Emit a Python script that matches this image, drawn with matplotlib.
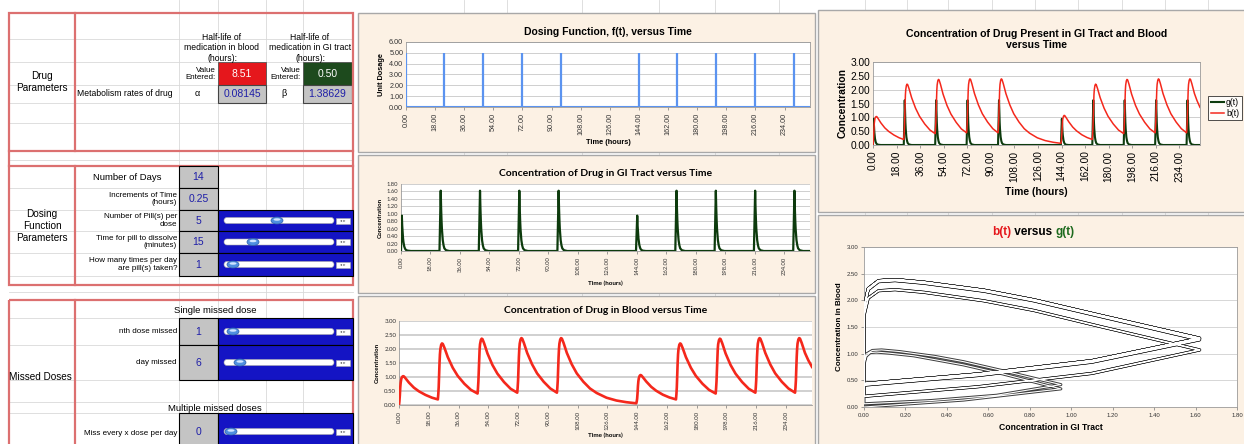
import matplotlib
matplotlib.use('Agg')
from matplotlib import pyplot as plt
from matplotlib.patches import Rectangle, Ellipse, FancyBboxPatch
from matplotlib.ticker import FormatStrFormatter

W, H = 1244, 444

# dosing function f(t): pill doses (unit dosage)
dose_hours = [0.0, 23.75, 47.75, 71.75, 95.75, 143.75, 167.75, 191.75, 215.75, 239.75]
dose_units = [5.0, 5.0, 5.0, 5.0, 5.0, 5.0, 5.0, 5.0, 5.0, 5.0]

# time (hours), GI tract g(t) and blood b(t), one row per dosing cycle
hours = [
    0, 0.25, 0.5, 0.75, 1, 1.25, 1.5, 2, 2.5, 3, 4, 6, 9, 12, 16, 20,
    23.5, 23.75, 24, 24.25, 24.5, 24.75, 25, 25.5, 26, 26.5, 27.5, 29.5, 32.5, 35.5, 39.5, 43.5,
    47.5, 47.75, 48, 48.25, 48.5, 48.75, 49, 49.5, 50, 50.5, 51.5, 53.5, 56.5, 59.5, 63.5, 67.5,
    71.5, 71.75, 72, 72.25, 72.5, 72.75, 73, 73.5, 74, 74.5, 75.5, 77.5, 80.5, 83.5, 87.5, 91.5,
    95.5, 95.75, 96, 96.25, 96.5, 96.75, 97, 97.5, 98, 98.5, 99.5, 101.5, 104.5, 107.5, 111.5, 115.5,
    119.5, 125.5, 131.5, 137.5,
    143.5, 143.75, 144, 144.25, 144.5, 144.75, 145, 145.5, 146, 146.5, 147.5, 149.5, 152.5, 155.5, 159.5, 163.5,
    167.5, 167.75, 168, 168.25, 168.5, 168.75, 169, 169.5, 170, 170.5, 171.5, 173.5, 176.5, 179.5, 183.5, 187.5,
    191.5, 191.75, 192, 192.25, 192.5, 192.75, 193, 193.5, 194, 194.5, 195.5, 197.5, 200.5, 203.5, 207.5, 211.5,
    215.5, 215.75, 216, 216.25, 216.5, 216.75, 217, 217.5, 218, 218.5, 219.5, 221.5, 224.5, 227.5, 231.5, 235.5,
    239.5, 239.75, 240, 240.25, 240.5, 240.75, 241, 241.5, 242, 242.5, 243.5, 245.5, 247.5, 249.75,
]
g_conc = [
    0, 0.48, 0.95, 0.67, 0.48, 0.34, 0.24, 0.12, 0.06, 0.03, 0.01, 0, 0, 0, 0, 0,
    0, 0.55, 1.10, 1.62, 1.15, 0.82, 0.58, 0.29, 0.15, 0.07, 0.02, 0, 0, 0, 0, 0,
    0, 0.55, 1.10, 1.62, 1.15, 0.82, 0.58, 0.29, 0.15, 0.07, 0.02, 0, 0, 0, 0, 0,
    0, 0.55, 1.10, 1.62, 1.15, 0.82, 0.58, 0.29, 0.15, 0.07, 0.02, 0, 0, 0, 0, 0,
    0, 0.55, 1.10, 1.62, 1.15, 0.82, 0.58, 0.29, 0.15, 0.07, 0.02, 0, 0, 0, 0, 0,
    0, 0, 0, 0,
    0, 0.32, 0.64, 0.95, 0.67, 0.48, 0.34, 0.17, 0.085, 0.04, 0.01, 0, 0, 0, 0, 0,
    0, 0.55, 1.10, 1.62, 1.15, 0.82, 0.58, 0.29, 0.15, 0.07, 0.02, 0, 0, 0, 0, 0,
    0, 0.55, 1.10, 1.62, 1.15, 0.82, 0.58, 0.29, 0.15, 0.07, 0.02, 0, 0, 0, 0, 0,
    0, 0.55, 1.10, 1.62, 1.15, 0.82, 0.58, 0.29, 0.15, 0.07, 0.02, 0, 0, 0, 0, 0,
    0, 0.55, 1.10, 1.62, 1.15, 0.82, 0.58, 0.29, 0.15, 0.07, 0.02, 0, 0, 0,
]
b_conc = [
    0, 0.13, 0.34, 0.62, 0.79, 0.89, 0.96, 1.01, 1.03, 1.02, 0.95, 0.80, 0.62, 0.49, 0.36, 0.26,
    0.20, 0.38, 0.63, 1.07, 1.50, 1.81, 1.99, 2.15, 2.20, 2.18, 2.04, 1.71, 1.33, 1.04, 0.76, 0.54,
    0.41, 0.59, 0.84, 1.26, 1.69, 1.99, 2.17, 2.32, 2.37, 2.35, 2.20, 1.84, 1.43, 1.12, 0.82, 0.58,
    0.44, 0.62, 0.87, 1.29, 1.71, 2.01, 2.19, 2.34, 2.39, 2.37, 2.22, 1.86, 1.45, 1.13, 0.83, 0.59,
    0.44, 0.62, 0.87, 1.29, 1.71, 2.01, 2.19, 2.34, 2.39, 2.37, 2.22, 1.86, 1.45, 1.13, 0.83, 0.59,
    0.43, 0.26, 0.16, 0.10,
    0.06, 0.12, 0.22, 0.42, 0.68, 0.85, 0.95, 1.04, 1.07, 1.06, 0.99, 0.84, 0.65, 0.51, 0.37, 0.27,
    0.20, 0.38, 0.63, 1.07, 1.50, 1.81, 1.99, 2.15, 2.20, 2.18, 2.04, 1.71, 1.33, 1.04, 0.76, 0.54,
    0.41, 0.59, 0.84, 1.26, 1.69, 1.99, 2.17, 2.32, 2.37, 2.35, 2.20, 1.84, 1.43, 1.12, 0.82, 0.58,
    0.44, 0.62, 0.87, 1.29, 1.71, 2.01, 2.19, 2.34, 2.39, 2.37, 2.22, 1.86, 1.45, 1.13, 0.83, 0.59,
    0.44, 0.62, 0.87, 1.29, 1.71, 2.01, 2.19, 2.34, 2.39, 2.37, 2.22, 1.86, 1.60, 1.36,
]

time_ticks = [0, 18, 36, 54, 72, 90, 108, 126, 144, 162, 180, 198, 216, 234]
t_end = 249.75

ARIAL = ['Liberation Sans', 'DejaVu Sans']
CALIBRI = ['Lato', 'DejaVu Sans']
BEIGE = '#fcf1e4'
RED_BORDER = '#dc7070'
GRID = '#d9d9d9'
VAL_BLUE = '#1e1ea8'


def fr(x0, y0, x1, y1):
    return [x0 / W, 1 - y1 / H, (x1 - x0) / W, (y1 - y0) / H]


fig = plt.figure(figsize=(W / 100, H / 100), dpi=100)
bg = fig.add_axes([0, 0, 1, 1])
bg.set_xlim(0, W)
bg.set_ylim(H, 0)
bg.axis('off')

# ---- spreadsheet background grid
for x in [179, 218, 266, 303, 464, 507, 582, 659, 715, 779, 865, 907, 948, 992, 1035, 1078, 1122, 1165, 1208]:
    bg.plot([x, x], [0, H], color=GRID, lw=0.6, zorder=0)
for y in [39, 62, 85, 103, 123, 160, 188, 210, 231, 253, 276, 292, 318, 345, 380, 402, 413]:
    bg.plot([9, 353], [y, y], color=GRID, lw=0.6, zorder=0)

# ---- red bordered blocks
for (y0, y1) in [(13, 151), (166, 285), (300, 450)]:
    bg.add_patch(Rectangle((9, y0), 344, y1 - y0, fill=False, ec=RED_BORDER, lw=1.6, zorder=2))
    bg.plot([75, 75], [y0, y1], color=RED_BORDER, lw=1.6, zorder=2)
bg.plot([9, 9], [151, 166], color=RED_BORDER, lw=1.6)
bg.plot([353, 353], [151, 166], color=RED_BORDER, lw=1.6)

tk = dict(family=ARIAL, color='black')
bg.text(42, 82, 'Drug\nParameters', ha='center', va='center', fontsize=7.2, linespacing=1.3, **tk)
bg.text(42, 226, 'Dosing\nFunction\nParameters', ha='center', va='center', fontsize=7.2, linespacing=1.3, **tk)
bg.text(40, 377, 'Missed Doses', ha='center', va='center', fontsize=7.2, **tk)

# block 1
bg.text(222, 48, 'Half-life of\nmedication in blood\n(hours):', ha='center', va='center', fontsize=6.2, linespacing=1.15, **tk)
bg.text(310, 48, 'Half-life of\nmedication in GI tract\n(hours):', ha='center', va='center', fontsize=6.2, linespacing=1.15, **tk)
bg.text(216, 74, 'Value\nEntered:', ha='right', va='center', fontsize=5.8, linespacing=1.05, **tk)
bg.text(301, 74, 'Value\nEntered:', ha='right', va='center', fontsize=5.8, linespacing=1.05, **tk)
bg.add_patch(Rectangle((218, 62), 48, 23, fc='#e5171c', ec='#555555', lw=0.6))
bg.text(242, 74, '8.51', ha='center', va='center', fontsize=7.5, family=ARIAL, color='white')
bg.add_patch(Rectangle((303, 62), 49, 23, fc='#1d4a1d', ec='#555555', lw=0.6))
bg.text(327.5, 74, '0.50', ha='center', va='center', fontsize=7.5, family=ARIAL, color='white')
bg.text(77, 94, 'Metabolism rates of drug', ha='left', va='center', fontsize=6.2, **tk)
bg.text(197, 94, 'α', ha='center', va='center', fontsize=6.5, **tk)
bg.text(284, 94, 'β', ha='center', va='center', fontsize=6.5, **tk)
bg.add_patch(Rectangle((218, 85), 48, 18, fc='#c4c4c4', ec='#444444', lw=0.8))
bg.add_patch(Rectangle((303, 85), 49, 18, fc='#c4c4c4', ec='#444444', lw=0.8))
bg.text(242, 94, '0.08145', ha='center', va='center', fontsize=7.5, family=ARIAL, color=VAL_BLUE)
bg.text(327.5, 94, '1.38629', ha='center', va='center', fontsize=7.5, family=ARIAL, color=VAL_BLUE)


def slider(y0, y1, knob_x):
    bg.add_patch(Rectangle((218, y0), 135, y1 - y0, fc='#1414c4', ec='black', lw=0.8, zorder=3))
    cy = (y0 + y1) / 2
    bg.add_patch(FancyBboxPatch((224, cy - 3), 110, 6, boxstyle='round,pad=0,rounding_size=3',
                                fc='white', ec='#aaaaaa', lw=0.4, zorder=4))
    bg.add_patch(Rectangle((336, cy - 3), 14, 6, fc='white', ec='#aaaaaa', lw=0.4, zorder=4))
    bg.text(343, cy, '◂ ▸', ha='center', va='center', fontsize=3, color='#555555', zorder=5)
    bg.add_patch(Ellipse((knob_x, cy), 12, 7, fc='#4f8fe0', ec='#2a5aa8', lw=0.5, zorder=5))
    bg.add_patch(Ellipse((knob_x, cy - 1), 7, 2.5, fc='#cfe3ff', ec='none', zorder=6))


def value_cell(y0, y1, txt):
    bg.add_patch(Rectangle((179, y0), 39, y1 - y0, fc='#c4c4c4', ec='black', lw=0.8, zorder=3))
    bg.text(198.5, (y0 + y1) / 2, txt, ha='center', va='center', fontsize=7.5, family=ARIAL,
            color=VAL_BLUE, zorder=4)


# block 2
bg.text(127, 177, 'Number of Days', ha='center', va='center', fontsize=6.8, **tk)
bg.text(177, 199, 'Increments of Time\n(hours)', ha='right', va='center', fontsize=5.8, linespacing=1.1, **tk)
bg.text(177, 220.5, 'Number of Pill(s) per\ndose', ha='right', va='center', fontsize=5.8, linespacing=1.1, **tk)
bg.text(177, 242, 'Time for pill to dissolve\n(minutes)', ha='right', va='center', fontsize=5.8, linespacing=1.1, **tk)
bg.text(177, 264.5, 'How many times per day\nare pill(s) taken?', ha='right', va='center', fontsize=5.8, linespacing=1.1, **tk)
value_cell(166, 188, '14')
value_cell(188, 210, '0.25')
value_cell(210, 231, '5')
value_cell(231, 253, '15')
value_cell(253, 276, '1')
slider(210, 231, 277)
slider(231, 253, 253)
slider(253, 276, 233)

# block 3
bg.text(215, 310, 'Single missed dose', ha='center', va='center', fontsize=6.8, **tk)
bg.text(177, 331, 'nth dose missed', ha='right', va='center', fontsize=5.8, **tk)
bg.text(177, 362, 'day missed', ha='right', va='center', fontsize=5.8, **tk)
bg.text(215, 408, 'Multiple missed doses', ha='center', va='center', fontsize=6.8, **tk)
bg.text(177, 433, 'Miss every x dose per day', ha='right', va='center', fontsize=5.8, **tk)
value_cell(318, 345, '1')
value_cell(345, 380, '6')
value_cell(413, 450, '0')
slider(318, 345, 233)
slider(345, 380, 240)
slider(413, 450, 231)

# ---- chart panels
for (x0, y0, x1, y1) in [(358, 13, 815, 152), (358, 155, 815, 293), (358, 296, 815, 450),
                         (818, 10, 1250, 212), (818, 215, 1250, 450)]:
    bg.add_patch(Rectangle((x0, y0), x1 - x0, y1 - y0, fc=BEIGE, ec='#a8a8a8', lw=1.0, zorder=6))


def time_axis(ax, size, family, color='#333333', grid_lw=0.6):
    ax.set_xlim(0, t_end)
    ax.set_xticks(time_ticks)
    ax.set_xticklabels(['%.2f' % t for t in time_ticks], rotation=90, fontsize=size,
                       family=family, color=color)
    ax.tick_params(axis='x', length=2, width=0.5, pad=2, colors='#777777', labelcolor=color)
    ax.tick_params(axis='y', length=0, pad=2, labelcolor=color)
    for lab in ax.get_yticklabels():
        lab.set_fontsize(size)
        lab.set_family(family)
    ax.yaxis.set_major_formatter(FormatStrFormatter('%.2f'))
    ax.grid(axis='y', color='#c8c8c8', lw=grid_lw)
    ax.set_axisbelow(True)
    for s in ax.spines.values():
        s.set_color('#9a9a9a')
        s.set_linewidth(0.6)


# chart 1: dosing function
ax1 = fig.add_axes(fr(406, 42, 810, 107))
ax1.axhline(0, color='#5b93f0', lw=1.5, zorder=3)
ax1.vlines(dose_hours, 0, dose_units, color='#5b93f0', lw=1.6, zorder=3)
ax1.set_ylim(0, 6)
ax1.set_yticks([0, 1, 2, 3, 4, 5, 6])
time_axis(ax1, 5.2, ARIAL)
ax1.set_title('Dosing Function, f(t), versus Time', fontsize=7.5, fontweight='bold', family=ARIAL, pad=5)
ax1.set_ylabel('Unit Dosage', fontsize=5.3, fontweight='bold', family=ARIAL, labelpad=3)
ax1.set_xlabel('Time (hours)', fontsize=5.3, fontweight='bold', family=ARIAL, labelpad=3)

# chart 2: GI tract
ax2 = fig.add_axes(fr(401, 184, 810, 251))
ax2.plot(hours, g_conc, color='#0d3b0d', lw=1.6, zorder=3)
ax2.set_ylim(0, 1.8)
ax2.set_yticks([0, 0.2, 0.4, 0.6, 0.8, 1.0, 1.2, 1.4, 1.6, 1.8])
time_axis(ax2, 4.2, CALIBRI)
ax2.set_title('Concentration of Drug in GI Tract versus Time', fontsize=7.5, fontweight='bold',
              family=CALIBRI, pad=6)
ax2.set_ylabel('Concentration', fontsize=4.5, fontweight='bold', family=CALIBRI, labelpad=3)
ax2.set_xlabel('Time (hours)', fontsize=4.5, fontweight='bold', family=CALIBRI, labelpad=4)
ax2.spines['top'].set_visible(False)
ax2.spines['right'].set_visible(False)

# chart 3: blood
ax3 = fig.add_axes(fr(399, 321, 812, 405))
ax3.plot(hours, b_conc, color='#f4281c', lw=1.9, zorder=3)
ax3.set_ylim(0, 3)
ax3.set_yticks([0, 0.5, 1.0, 1.5, 2.0, 2.5, 3.0])
time_axis(ax3, 4.4, CALIBRI, grid_lw=1.2)
ax3.set_title('Concentration of Drug in Blood versus Time', fontsize=7.5, fontweight='bold',
              family=CALIBRI, pad=6)
ax3.set_ylabel('Concentration', fontsize=4.5, fontweight='bold', family=CALIBRI, labelpad=3)
ax3.set_xlabel('Time (hours)', fontsize=4.5, fontweight='bold', family=CALIBRI, labelpad=2)
ax3.spines['top'].set_visible(False)
ax3.spines['right'].set_visible(False)

# chart 4: both
ax4 = fig.add_axes(fr(873, 62, 1200, 145))
ax4.plot(hours, g_conc, color='#0d3b0d', lw=1.5, label='g(t)', zorder=3)
ax4.plot(hours, b_conc, color='#f4281c', lw=1.1, label='b(t)', zorder=4)
ax4.set_ylim(0, 3)
ax4.set_yticks([0, 0.5, 1.0, 1.5, 2.0, 2.5, 3.0])
time_axis(ax4, 7.3, ARIAL, color='black')
ax4.set_title('Concentration of Drug Present in GI Tract and Blood\nversus Time', fontsize=7.6,
              fontweight='bold', family=ARIAL, pad=10, linespacing=1.15)
ax4.set_ylabel('Concentration', fontsize=7.4, fontweight='bold', family=ARIAL, labelpad=2)
ax4.set_xlabel('Time (hours)', fontsize=7.4, fontweight='bold', family=ARIAL, labelpad=4)
leg = ax4.legend(loc='center left', bbox_to_anchor=(1208 / W, 1 - 108 / H), bbox_transform=fig.transFigure,
                 fontsize=6.2, frameon=True, fancybox=False, handlelength=1.6, handletextpad=0.2,
                 borderpad=0.3, labelspacing=0.2, borderaxespad=0)
leg.get_frame().set_edgecolor('black')
leg.get_frame().set_linewidth(0.6)
for txt in leg.get_texts():
    txt.set_family(ARIAL)

# chart 5: phase plot b(t) vs g(t), double line
ax5 = fig.add_axes(fr(864, 247, 1237, 407))
ax5.plot(g_conc, b_conc, color='#3c3c3c', lw=2.2, zorder=3, solid_joinstyle='round')
ax5.plot(g_conc, b_conc, color='white', lw=0.8, zorder=4, solid_joinstyle='round')
ax5.set_xlim(0, 1.8)
ax5.set_ylim(0, 3)
ax5.set_xticks([0, 0.2, 0.4, 0.6, 0.8, 1.0, 1.2, 1.4, 1.6, 1.8])
ax5.set_yticks([0, 0.5, 1.0, 1.5, 2.0, 2.5, 3.0])
ax5.xaxis.set_major_formatter(FormatStrFormatter('%.2f'))
ax5.yaxis.set_major_formatter(FormatStrFormatter('%.2f'))
ax5.tick_params(length=2, width=0.5, labelsize=4.3, colors='#777777', labelcolor='#333333', pad=2)
for lab in ax5.get_xticklabels() + ax5.get_yticklabels():
    lab.set_family(ARIAL)
ax5.grid(axis='y', color='#d0d0d0', lw=0.6)
ax5.set_axisbelow(True)
for s in ax5.spines.values():
    s.set_color('#9a9a9a')
    s.set_linewidth(0.6)
ax5.set_ylabel('Concentration in Blood', fontsize=5.8, fontweight='bold', family=ARIAL, labelpad=3)
ax5.set_xlabel('Concentration in GI Tract', fontsize=6.2, fontweight='bold', family=ARIAL, labelpad=4)

# coloured title pieces
fig.canvas.draw()
rend = fig.canvas.get_renderer()
parts = [('b(t)', '#e5171c'), (' versus ', 'black'), ('g(t)', '#1d6a1d')]
objs = []
for s, c in parts:
    objs.append(fig.text(0, 1 - 232 / H, s, color=c, fontsize=8.5, fontweight='bold', family=ARIAL,
                         va='center', ha='left'))
widths = [o.get_window_extent(rend).width for o in objs]
x = 1033 - sum(widths) / 2
for o, w in zip(objs, widths):
    o.set_x(x / W)
    x += w

fig.savefig('out.png', dpi=100)
